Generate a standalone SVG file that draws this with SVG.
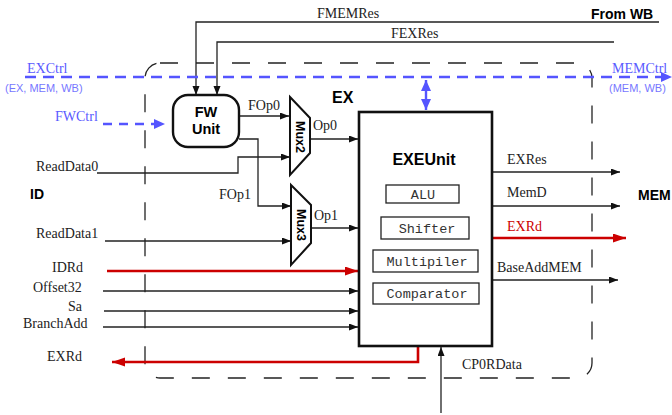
<svg xmlns="http://www.w3.org/2000/svg" width="672" height="415" viewBox="0 0 672 415">
<defs>
<style>
.ln{fill:none;stroke:#222;stroke-width:1.3}
.rd{fill:none;stroke:#cc0000;stroke-width:2.6}
.bl{fill:none;stroke:#5555ff;stroke-width:2.4}
.sf{font-family:"Liberation Serif","Times New Roman",serif;font-size:14px;fill:#222}
.bd{font-family:"Liberation Sans",Arial,sans-serif;font-weight:bold;fill:#000}
.mono{font-family:"Liberation Mono","Courier New",monospace;font-size:13.5px;fill:#333;text-anchor:middle}
.bt{font-family:"Liberation Serif","Times New Roman",serif;font-size:14px;fill:#5a5aff}
.bs{font-family:"Liberation Sans",Arial,sans-serif;font-size:11px;fill:#7777ff}
.box{fill:#fff;stroke:#222;stroke-width:1.3}
</style>
<marker id="ab" markerUnits="userSpaceOnUse" markerWidth="10" markerHeight="8" refX="9" refY="3.5" orient="auto"><path d="M0,0 L9,3.5 L0,7 z" fill="#111"/></marker>
<marker id="ar" markerUnits="userSpaceOnUse" markerWidth="14" markerHeight="10" refX="13" refY="4.5" orient="auto"><path d="M0,0 L13,4.5 L0,9 z" fill="#cc0000"/></marker>
<marker id="abl" markerUnits="userSpaceOnUse" markerWidth="12" markerHeight="11" refX="11" refY="5" orient="auto-start-reverse"><path d="M0,0 L11,5 L0,10 z" fill="#5555ff"/></marker>
</defs>

<g id="ex-stage">
<rect x="145" y="63" width="447" height="315" rx="15" fill="none" stroke="#222" stroke-width="1.3" stroke-dasharray="18 18" stroke-dashoffset="0"/>
<text class="bd" x="332" y="103" font-size="16">EX</text>
</g>

<g id="connectors">
<path class="ln" d="M659,22 H196 V95" marker-end="url(#ab)"/>
<path class="ln" d="M614,42 H217 V95" marker-end="url(#ab)"/>
<path class="ln" d="M239,116 H289" marker-end="url(#ab)"/>
<path class="ln" d="M97,173 H238 V157 H290" marker-end="url(#ab)"/>
<path class="ln" d="M239,139 H258 V206 H291" marker-end="url(#ab)"/>
<path class="ln" d="M105,241 H291" marker-end="url(#ab)"/>
<path class="ln" d="M310,139 H358" marker-end="url(#ab)"/>
<path class="ln" d="M311,228 H358" marker-end="url(#ab)"/>
<path class="rd" d="M107,271 H358" marker-end="url(#ar)"/>
<path class="ln" d="M103,291 H358" marker-end="url(#ab)"/>
<path class="ln" d="M104,311 H358" marker-end="url(#ab)"/>
<path class="ln" d="M103,327 H358" marker-end="url(#ab)"/>
<path class="rd" d="M418,346 V362 H112" marker-end="url(#ar)"/>
<path class="ln" d="M441,413 V347" marker-end="url(#ab)"/>
<path class="ln" d="M492,172 H620" marker-end="url(#ab)"/>
<path class="ln" d="M492,206 H620" marker-end="url(#ab)"/>
<path class="rd" d="M492,238 H626" marker-end="url(#ar)"/>
<path class="ln" d="M492,280 H618" marker-end="url(#ab)"/>
<path class="bl" d="M426,80 V110" marker-start="url(#abl)" marker-end="url(#abl)"/>
<path class="bl" d="M103,124 H165" stroke-dasharray="9 7" marker-end="url(#abl)"/>
<path class="bl" d="M25,77 H672" stroke-dasharray="11 7" marker-end="url(#abl)"/>
</g>

<g id="labels">
<text class="sf" x="317" y="18">FMEMRes</text>
<text class="bd" x="591" y="19" font-size="14">From WB</text>
<text class="sf" x="391" y="38">FEXRes</text>
<text class="bt" x="27" y="73">EXCtrl</text>
<text class="bs" x="5" y="92">(EX, MEM, WB)</text>
<text class="bt" x="612" y="73">MEMCtrl</text>
<text class="bs" x="609" y="92">(MEM, WB)</text>
<text class="bt" x="55" y="121">FWCtrl</text>
<text class="sf" x="248" y="110">FOp0</text>
<text class="sf" x="313" y="130">Op0</text>
<text class="sf" x="36" y="171">ReadData0</text>
<text class="bd" x="30" y="199" font-size="14">ID</text>
<text class="sf" x="219" y="199">FOp1</text>
<text class="sf" x="314" y="220">Op1</text>
<text class="sf" x="36" y="238">ReadData1</text>
<text class="sf" x="52" y="272">IDRd</text>
<text class="sf" x="33" y="292">Offset32</text>
<text class="sf" x="68" y="311">Sa</text>
<text class="sf" x="23" y="328">BranchAdd</text>
<text class="sf" x="47" y="361">EXRd</text>
<text class="sf" x="462" y="369">CP0RData</text>
<text class="sf" x="507" y="164">EXRes</text>
<text class="sf" x="507" y="197">MemD</text>
<text class="sf" x="507" y="231" fill="#cc0000" style="fill:#cc0000">EXRd</text>
<text class="sf" x="497" y="272">BaseAddMEM</text>
<text class="bd" x="638" y="200" font-size="14">MEM</text>
</g>

<g id="fw-unit">
<rect x="173" y="95" width="66" height="52" rx="15" fill="#fff" stroke="#111" stroke-width="2.4"/>
<text class="bd" x="206" y="117" font-size="14.5" text-anchor="middle">FW</text>
<text class="bd" x="206" y="134" font-size="14.5" text-anchor="middle">Unit</text>
</g>

<g id="mux2">
<polygon points="290,97 310,118 310,153 290,175" fill="#fff" stroke="#111" stroke-width="2"/>
<text class="bd" font-size="12.5" text-anchor="middle" transform="translate(296,137) rotate(90)">Mux2</text>
</g>

<g id="mux3">
<polygon points="291,185 311,205 311,243 291,265" fill="#fff" stroke="#111" stroke-width="2"/>
<text class="bd" font-size="12.5" text-anchor="middle" transform="translate(297,225) rotate(90)">Mux3</text>
</g>

<g id="exeunit">
<rect x="359" y="112" width="133" height="234" fill="#fff" stroke="#111" stroke-width="2.6"/>
<text class="bd" x="424" y="165" font-size="16" text-anchor="middle">EXEUnit</text>
<g id="alu"><rect class="box" x="386" y="185" width="73" height="18"/><text class="mono" x="423" y="199">ALU</text></g>
<g id="shifter"><rect class="box" x="381" y="217" width="88" height="22"/><text class="mono" x="427" y="233">Shifter</text></g>
<g id="multipiler"><rect class="box" x="373" y="250" width="105" height="22"/><text class="mono" x="427" y="266">Multipiler</text></g>
<g id="comparator"><rect class="box" x="373" y="283" width="106" height="21"/><text class="mono" x="427" y="298">Comparator</text></g>
</g>
</svg>
